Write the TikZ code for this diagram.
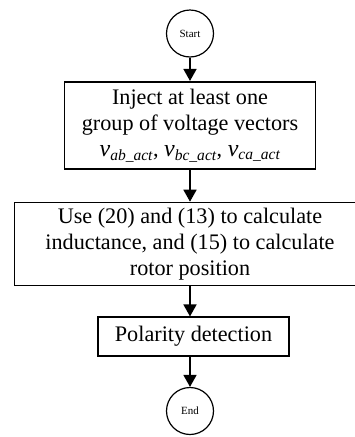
\documentclass[tikz,border=0pt]{standalone}
\usepackage{fontspec}
\setmainfont{Liberation Serif}
\usetikzlibrary{arrows.meta}
\newcommand{\vsub}[1]{{\fontsize{24}{26}\selectfont\itshape v}\textsubscript{\itshape #1}}
\begin{document}
\begin{tikzpicture}[x=1pt,y=-1pt,
  procbox/.style={draw,line width=1.6pt,inner sep=0pt,align=center,
    font=\fontsize{22.2}{26}\selectfont},
  termcirc/.style={draw,circle,line width=1.2pt,inner sep=0pt,minimum size=47pt,
    font=\fontsize{11}{13}\selectfont},
  flow/.style={line width=1.6pt,-{Triangle[width=13pt,length=12pt]}}]
\useasboundingbox (0,0) rectangle (355,437);
\clip (0,0) rectangle (355,437);
\node[termcirc] (start) at (190,33.5) {Start};
\node[procbox,minimum width=251pt,minimum height=87.5pt] (b1) at (190,125.5)
  {Inject at least one\\group of voltage vectors\\
   \vsub{ab\_act}, \vsub{bc\_act}, \vsub{ca\_act}};
\node[procbox,minimum width=351pt,minimum height=83pt] (b2) at (190,244)
  {Use (20) and (13) to calculate\\inductance, and (15) to calculate\\rotor position};
\node[procbox,minimum width=191pt,minimum height=38.5pt] (b3) at (193.5,336.5)
  {Polarity detection};
\node[termcirc] (end) at (190,411) {End};
\draw[flow] (start.south) -- (start |- b1.north);
\draw[flow] (b1.south) -- (b1.south |- b2.north);
\draw[flow] (b2.south -| start) -- (start |- b3.north);
\draw[flow] (b3.south -| start) -- (end.north);
\end{tikzpicture}
\end{document}
